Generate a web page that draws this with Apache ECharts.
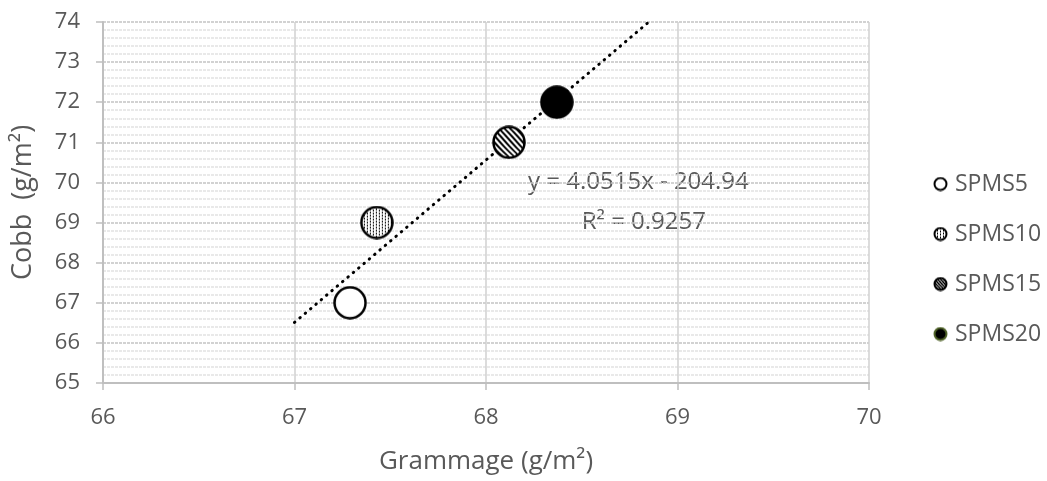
<!DOCTYPE html>
<html>
<head>
<meta charset="utf-8">
<script src="https://cdn.jsdelivr.net/npm/echarts@6/dist/echarts.min.js"></script>
<style>
  html, body { margin: 0; padding: 0; background: #fff; }
  #chart { width: 1047px; height: 481px; }
</style>
</head>
<body>
<div id="chart"></div>
<script>
  // data
  const seriesNames = ['SPMS5', 'SPMS10', 'SPMS15', 'SPMS20']
  const grammage = [67.29, 67.43, 68.12, 68.37]
  const cobb = [67.0, 69.0, 71.0, 72.0]
  const trendX = [67.0, 68.85]
  const trendY = [66.51, 74.0]
  const xTicks = [66, 70, 1]
  const yTicks = [65, 74, 1]
  const eqText = 'y = 4.0515x - 204.94'
  const r2Text = 'R² = 0.9257'

  const FONT = '"Open Sans", sans-serif'
  const GREY = '#595959'

  // marker pictures (pattern fills would get scaled inside a symbol)
  function marker(kind, size, ring) {
    const c = document.createElement('canvas')
    c.width = size; c.height = size
    const ctx = c.getContext('2d')
    const r = size / 2 - 1.5
    const m = size / 2
    ctx.save()
    ctx.beginPath()
    ctx.arc(m, m, r, 0, Math.PI * 2)
    ctx.clip()
    if (kind === 'white') {
      ctx.fillStyle = '#fff'
      ctx.fillRect(0, 0, size, size)
    } else if (kind === 'dots') {
      ctx.fillStyle = '#fff'
      ctx.fillRect(0, 0, size, size)
      ctx.fillStyle = '#000'
      for (let x = 1; x < size; x += 3) {
        for (let y = (x % 2); y < size; y += 3) {
          ctx.fillRect(x, y, 1, 2)
        }
      }
    } else if (kind === 'stripes') {
      ctx.fillStyle = '#000'
      ctx.fillRect(0, 0, size, size)
      ctx.strokeStyle = '#fff'
      ctx.lineWidth = Math.max(1, size / 16)
      const step = Math.max(3, size / 6)
      for (let k = -size; k < size * 2; k += step) {
        ctx.beginPath()
        ctx.moveTo(k, 0)
        ctx.bezierCurveTo(k + size * 0.3, size * 0.2, k + size * 0.5, size * 0.6, k + size, size)
        ctx.stroke()
      }
    } else {
      ctx.fillStyle = '#000'
      ctx.fillRect(0, 0, size, size)
    }
    ctx.restore()
    ctx.beginPath()
    ctx.arc(m, m, r, 0, Math.PI * 2)
    ctx.lineWidth = size > 20 ? 2.5 : 2
    ctx.strokeStyle = ring || '#000'
    ctx.stroke()
    return 'image://' + c.toDataURL()
  }

  const kinds = ['white', 'dots', 'stripes', 'black']
  const legendRings = ['#000', '#000', '#000', '#4f6228']

  let myChart = echarts.init(document.getElementById('chart'))

  const pointSeries = seriesNames.map((name, i) => {
    return {
      name: name,
      type: 'scatter',
      symbol: marker(kinds[i], 34),
      symbolSize: 34,
      z: 5,
      itemStyle: { color: '#000', opacity: 1 },
      data: [[grammage[i], cobb[i]]]
    }
  })

  myChart.setOption({
    animation: false,
    textStyle: { fontFamily: FONT },
    grid: {
      left: 103,
      right: 178,
      top: 22,
      bottom: 98,
      containLabel: false,
      outerBoundsMode: 'none'
    },
    legend: {
      orient: 'vertical',
      left: 928,
      top: 163,
      itemWidth: 15,
      itemHeight: 15,
      itemGap: 18,
      data: seriesNames.map((name, i) => ({ name: name, icon: marker(kinds[i], 15, legendRings[i]) })),
      textStyle: { fontSize: 23, color: GREY, fontFamily: FONT, lineHeight: 32, padding: [0, 0, 0, 2] }
    },
    xAxis: {
      type: 'value',
      min: xTicks[0],
      max: xTicks[1],
      interval: xTicks[2],
      name: 'Grammage (g/m²)',
      nameLocation: 'middle',
      nameGap: 66,
      nameTextStyle: { fontSize: 26, color: GREY, fontFamily: FONT },
      axisLine: { show: true, onZero: false, lineStyle: { color: '#bfbfbf', width: 2 } },
      axisTick: { show: true, length: 7, lineStyle: { color: '#bfbfbf', width: 1.5 } },
      axisLabel: { fontSize: 22, color: GREY, margin: 24 },
      splitLine: { show: true, lineStyle: { color: '#d0d0d0', width: 1.5 } }
    },
    yAxis: {
      type: 'value',
      min: yTicks[0],
      max: yTicks[1],
      interval: yTicks[2],
      name: 'Cobb  (g/m²)',
      nameLocation: 'middle',
      nameGap: 66,
      nameTextStyle: { fontSize: 27, color: GREY, fontFamily: FONT },
      axisLine: { show: true, onZero: false, lineStyle: { color: '#bfbfbf', width: 2 } },
      axisTick: { show: true, length: 7, lineStyle: { color: '#bfbfbf', width: 1.5 } },
      axisLabel: { fontSize: 22, color: GREY, margin: 23 },
      splitLine: { show: true, lineStyle: { color: '#c4c4c4', width: 1.5, type: [3, 1] } },
      minorTick: { show: false, splitNumber: 5 },
      minorSplitLine: { show: true, lineStyle: { color: '#e2e2e2', width: 1.5, type: [3, 1] } }
    },
    series: [
      {
        name: 'trend',
        type: 'line',
        symbol: 'none',
        z: 3,
        silent: true,
        lineStyle: { color: '#000', width: 3, type: [0.5, 6.5], cap: 'round' },
        data: trendX.map((x, i) => [x, trendY[i]])
      }
    ].concat(pointSeries),
    graphic: [
      {
        type: 'text',
        left: 528,
        top: 170,
        style: { text: eqText, fontSize: 24, fill: GREY, fontFamily: FONT }
      },
      {
        type: 'text',
        right: 1047 - 706,
        top: 210,
        style: { text: r2Text, fontSize: 24, fill: GREY, fontFamily: FONT }
      }
    ]
  })
</script>
</body>
</html>
